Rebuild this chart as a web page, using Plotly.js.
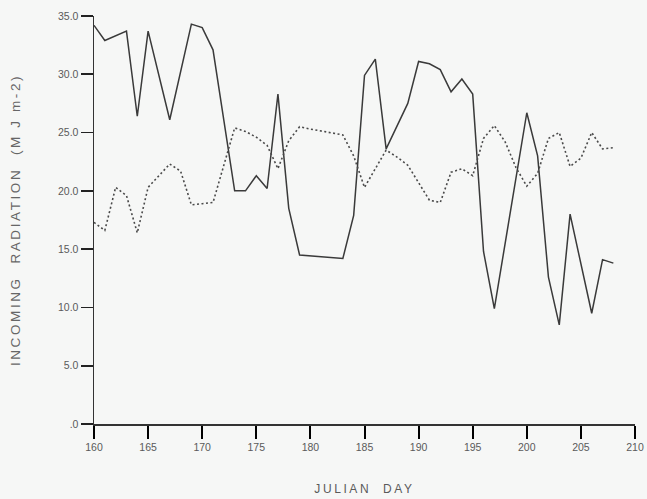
<!DOCTYPE html>
<html>
<head>
<meta charset="utf-8">
<script src="https://cdn.plot.ly/plotly-3.0.1.min.js"></script>
<style>
  html, body { margin: 0; padding: 0; background: #f6f7f6; }
  #chart { width: 647px; height: 499px; }
  #chart .xtitle, #chart .ytitle { letter-spacing: 2.6px; }
</style>
</head>
<body>
<div id="chart"></div>
<script>
// Solid series (measured incoming radiation)
const solidDays = [160,161,163,164,165,167,169,170,171,173,174,175,176,177,178,179,183,184,185,186,187,189,190,191,192,193,194,195,196,197,200,201,202,203,204,206,207,208];
const solidValues = [34.2,32.9,33.7,26.4,33.7,26.1,34.3,34.0,32.1,20.0,20.0,21.3,20.2,28.3,18.5,14.5,14.2,17.9,29.9,31.3,23.6,27.5,31.1,30.9,30.4,28.5,29.6,28.3,14.8,9.9,26.7,23.0,12.6,8.5,18.0,9.5,14.1,13.8];

// Dotted series
const dottedDays = [160,161,162,163,164,165,166,167,168,169,170,171,173,174,175,176,177,178,179,180,183,184,185,187,188,189,191,192,193,194,195,196,197,198,199,200,201,202,203,204,205,206,207,208];
const dottedValues = [17.3,16.6,20.3,19.6,16.4,20.3,21.3,22.3,21.7,18.8,18.9,19.0,25.4,25.1,24.6,23.9,21.9,24.3,25.5,25.3,24.8,23.0,20.3,23.5,22.9,22.2,19.2,19.0,21.6,21.9,21.3,24.5,25.6,24.2,22.0,20.4,21.5,24.5,25.0,22.1,22.8,25.0,23.6,23.7];

// Axis ticks
const xTickVals = [160,165,170,175,180,185,190,195,200,205,210];
const xTickText = ['160','165','170','175','180','185','190','195','200','205','210'];
const yTickVals = [0,5,10,15,20,25,30,35];
const yTickText = ['.0','5.0','10.0','15.0','20.0','25.0','30.0','35.0'];

const NB = '\u00a0';

const traces = [
  {
    x: solidDays, y: solidValues, type: 'scatter', mode: 'lines',
    line: { color: '#3a3a3a', width: 1.5 },
    hoverinfo: 'skip', showlegend: false
  },
  {
    x: dottedDays, y: dottedValues, type: 'scatter', mode: 'lines',
    line: { color: '#4a4a4a', width: 1.6, dash: '2px,2.5px' },
    hoverinfo: 'skip', showlegend: false
  }
];

const tickFont = { family: 'Liberation Sans, Arial, sans-serif', size: 10.5, color: '#5a5a5a' };

const layout = {
  width: 647, height: 499,
  margin: { l: 94, r: 12, t: 16, b: 75 },
  paper_bgcolor: '#f6f7f6',
  plot_bgcolor: '#f6f7f6',
  showlegend: false,
  xaxis: {
    range: [160, 210],
    tickmode: 'array', tickvals: xTickVals, ticktext: xTickText,
    ticks: 'outside', ticklen: 13, tickwidth: 2, tickcolor: '#000000',
    side: 'bottom', anchor: 'y',
    showline: true, linecolor: '#333', linewidth: 1.5,
    showgrid: false, zeroline: false,
    tickfont: tickFont,
    title: { text: 'JULIAN' + NB + NB + 'DAY', font: { family: 'Liberation Sans, Arial, sans-serif', size: 12, color: '#5a5a5a' }, standoff: 32 },
    automargin: false
  },
  yaxis: {
    range: [0, 35],
    tickmode: 'array', tickvals: yTickVals, ticktext: yTickText,
    ticks: 'outside', ticklen: 12, tickwidth: 1.6, tickcolor: '#222',
    showline: true, linecolor: '#333', linewidth: 1.5,
    showgrid: false, zeroline: false,
    tickfont: tickFont,
    title: { text: 'INCOMING' + NB + NB + 'RADIATION' + NB + NB + '(M' + NB + 'J' + NB + 'm-2)', font: { family: 'Liberation Sans, Arial, sans-serif', size: 13.5, color: '#666' }, standoff: 34 },
    automargin: false
  }
};

Plotly.newPlot('chart', traces, layout, { staticPlot: true, displayModeBar: false });
</script>
</body>
</html>
